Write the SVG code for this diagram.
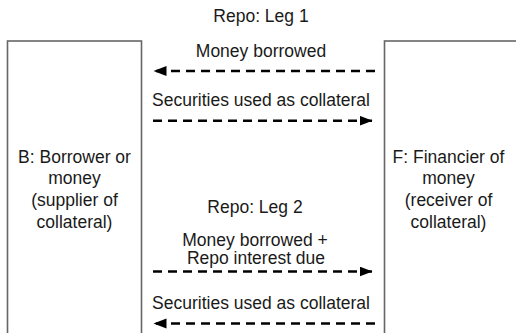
<svg xmlns="http://www.w3.org/2000/svg" width="516" height="333" viewBox="0 0 516 333">
<style>
.box{fill:#fff;stroke:#666;stroke-width:1.6}
.t{font-family:"Liberation Sans",Arial,Helvetica,sans-serif;font-size:17.5px;fill:#1a1a1a;text-anchor:middle}
.a{stroke:#000;stroke-width:2.6;stroke-dasharray:9 6;fill:none}
</style>
<defs>
<marker id="ah" markerUnits="userSpaceOnUse" markerWidth="14" markerHeight="12" refX="13" refY="5" orient="auto">
<path d="M0,0 L13,5 L0,10 Z" fill="#000"/>
</marker>
</defs>
<rect width="516" height="333" fill="#fff"/>
<g id="B">
<rect class="box" x="7.5" y="41" width="134" height="300"/>
<text class="t" x="74.5" y="162.7">B: Borrower or</text>
<text class="t" x="74.5" y="184.3">money</text>
<text class="t" x="74.5" y="205.9">(supplier of</text>
<text class="t" x="74.5" y="227.5">collateral)</text>
</g>
<g id="F">
<rect class="box" x="384.5" y="41" width="140" height="300"/>
<text class="t" x="448.5" y="162.7">F: Financier of</text>
<text class="t" x="448.5" y="184.3">money</text>
<text class="t" x="448.5" y="205.9">(receiver of</text>
<text class="t" x="448.5" y="227.5">collateral)</text>
</g>
<g id="labels">
<text class="t" x="261" y="21.7">Repo: Leg 1</text>
<text class="t" x="261" y="57.3">Money borrowed</text>
<text class="t" x="261" y="106">Securities used as collateral</text>
<text class="t" x="255" y="213.3">Repo: Leg 2</text>
<text class="t" x="255" y="246">Money borrowed +</text>
<text class="t" x="256" y="264">Repo interest due</text>
<text class="t" x="261" y="309">Securities used as collateral</text>
</g>
<g id="connectors">
<path class="a" d="M375,71 L153.5,71" marker-end="url(#ah)"/>
<path class="a" d="M153,120.7 L372.5,120.7" marker-end="url(#ah)"/>
<path class="a" d="M153,271.5 L372.5,271.5" marker-end="url(#ah)"/>
<path class="a" d="M375,323.5 L153.5,323.5" marker-end="url(#ah)"/>
</g>
</svg>
